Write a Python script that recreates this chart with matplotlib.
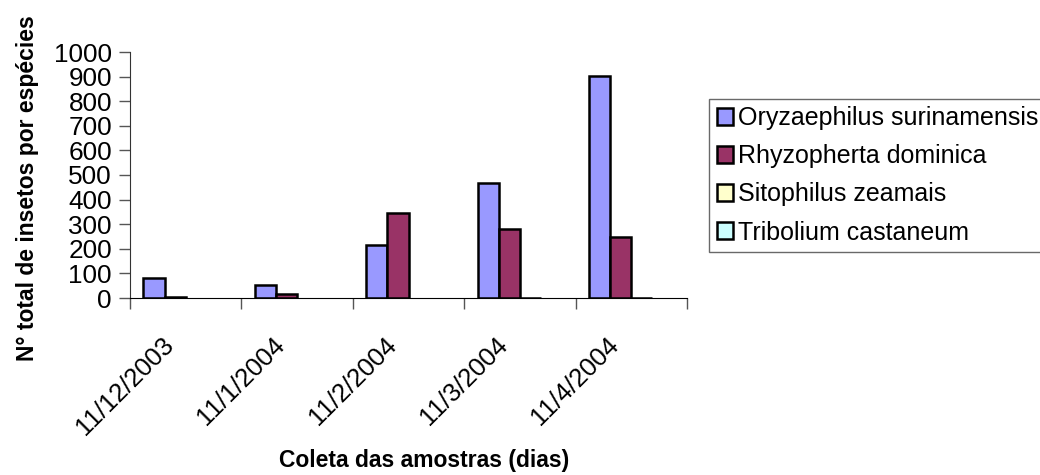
import matplotlib.pyplot as plt
import matplotlib.transforms as mtransforms
from matplotlib.patches import Patch
import numpy as np

plt.rcParams['font.family'] = ['Liberation Sans', 'DejaVu Sans']

datas = ['11/12/2003', '11/1/2004', '11/2/2004', '11/3/2004', '11/4/2004']
especies = ['Oryzaephilus surinamensis', 'Rhyzopherta dominica',
            'Sitophilus zeamais', 'Tribolium castaneum']
oryzaephilus = [80, 53, 215, 466, 904]
rhyzopherta = [5, 15, 345, 280, 247]
sitophilus = [0, 0, 0, 2, 2]
tribolium = [0, 0, 0, 0, 0]
cores = ['#9999FF', '#993366', '#FFFFCC', '#CCFFFF']

W, H = 1040, 475
fig = plt.figure(figsize=(W / 100, H / 100), dpi=100)
ax = fig.add_axes([130 / W, 1 - 298 / H, (687 - 130) / W, (298 - 52) / H])

x = np.arange(len(datas))
largura = 0.19
series = [oryzaephilus, rhyzopherta, sitophilus, tribolium]
for k, (valores, cor) in enumerate(zip(series, cores)):
    b = ax.bar(x + (k - 1.5) * largura, valores, largura, color=cor,
               edgecolor='black', linewidth=1.8, zorder=3)
    # barras com valor zero não aparecem
    for ret, v in zip(b.patches, valores):
        if v == 0:
            ret.set_visible(False)

ax.set_xlim(-0.5, len(datas) - 0.5)
ax.set_ylim(0, 1000)
ax.set_yticks(np.arange(0, 1001, 100))
ax.tick_params(axis='y', labelsize=18.8, length=8, width=1, color='#555555', pad=5)
ax.set_xticks(np.arange(-0.5, len(datas), 1))
ax.set_xticklabels([])
ax.tick_params(axis='x', length=8, width=1, color='#555555')

for lado in ['top', 'right']:
    ax.spines[lado].set_visible(False)
ax.spines['left'].set_color('#333333')
ax.spines['bottom'].set_color('black')
ax.spines['bottom'].set_zorder(4)

# rótulos das datas inclinados a 45 graus
trans = mtransforms.offset_copy(ax.get_xaxis_transform(), fig=fig,
                                x=-11, y=-48, units='dots')
for i, d in enumerate(datas):
    ax.text(i, 0, d, transform=trans, rotation=45, rotation_mode='anchor',
            ha='right', va='baseline', fontsize=18.5)

fig.text(28 / W, 1 - 188 / H, 'N° total de insetos por espécies', rotation=90,
         ha='center', va='center', fontsize=16.5, fontweight='bold')
fig.text(424 / W, 1 - 461 / H, 'Coleta das amostras (dias)',
         ha='center', va='center', fontsize=16.5, fontweight='bold')

handles = [Patch(facecolor=c, edgecolor='black', linewidth=1.8) for c in cores]
leg = fig.legend(handles, especies, loc='upper left',
                 bbox_to_anchor=(709 / W, 1 - 99 / H), fontsize=18,
                 frameon=True, fancybox=False, edgecolor='#444444',
                 borderpad=0.3, borderaxespad=0, handlelength=0.64,
                 handleheight=0.64, handletextpad=0.24, labelspacing=0.56)
leg.get_frame().set_linewidth(1)

fig.savefig('out.png', dpi=100)
